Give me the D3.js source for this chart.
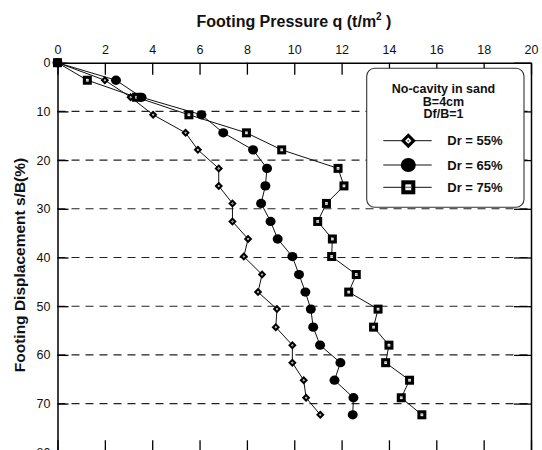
<!DOCTYPE html>
<html>
<head>
<meta charset="utf-8">
<script src="https://cdn.jsdelivr.net/npm/d3@7"></script>
<style>
  html, body { margin: 0; padding: 0; background: #fff; }
  svg { display: block; font-family: Arial, "Liberation Sans", sans-serif; }
</style>
</head>
<body>
<svg id="chart" width="542" height="450"></svg>
<script>
// Settlement ratio s/B (%) at each load step, shared by all three tests
const displacement = [0, 3.6, 7.1, 10.7, 14.4, 17.9, 21.7, 25.3, 28.9, 32.6, 36.2,
                      39.8, 43.5, 47.1, 50.6, 54.3, 58.0, 61.6, 65.2, 68.8, 72.3];
// Footing pressure q (t/m2) for each relative density
const pressure55 = [0, 2.0, 3.09, 4.04, 5.41, 5.93, 6.81, 6.81, 7.39, 7.39, 8.05,
                    7.87, 8.64, 8.47, 9.27, 9.22, 9.92, 9.92, 10.4, 10.5, 11.1];
const pressure65 = [0, 2.47, 3.55, 6.08, 7.0, 8.26, 8.85, 8.78, 8.6, 9.0, 9.3,
                    9.92, 10.2, 10.47, 10.7, 10.8, 11.09, 11.95, 11.7, 12.5, 12.47];
const pressure75 = [0, 1.26, 3.34, 5.55, 7.98, 9.47, 11.85, 12.1, 11.36, 10.99, 11.61,
                    11.58, 12.62, 12.3, 13.54, 13.35, 14.0, 13.86, 14.87, 14.52, 15.39];
const seriesNames = ["Dr = 55%", "Dr = 65%", "Dr = 75%"];
const seriesShapes = ["diamond", "circle", "square"];
const xTicks = [0, 2, 4, 6, 8, 10, 12, 14, 16, 18, 20];
const yTicks = [0, 10, 20, 30, 40, 50, 60, 70, 80];
const legendTitle = ["No-cavity in sand", "B=4cm", "Df/B=1"];

const svg = d3.select("#chart");
const x = d3.scaleLinear().domain([0, 20]).range([57.5, 531]);
const y = d3.scaleLinear().domain([0, 80]).range([62.7, 452.3]);

// Dashed horizontal grid
svg.append("g").selectAll("line")
  .data(yTicks.filter(v => v > 0 && v < 80))
  .join("line")
  .attr("x1", x(0)).attr("x2", x(20))
  .attr("y1", d => y(d)).attr("y2", d => y(d))
  .attr("stroke", "#222").attr("stroke-width", 1.1)
  .attr("stroke-dasharray", "8,6");

function styleAxis(g) {
  g.select(".domain").attr("stroke", "#000").attr("stroke-width", 1.5);
  g.selectAll(".tick line").attr("stroke", "#000").attr("stroke-width", 1.3);
  g.selectAll("text").attr("font-size", 12.5).attr("fill", "#111")
    .attr("font-family", "Arial, 'Liberation Sans', sans-serif");
}

// Top axis carries the pressure labels
svg.append("g").attr("transform", `translate(0,${y(0)})`)
  .call(d3.axisTop(x).tickValues(xTicks).tickSizeInner(-12).tickSizeOuter(0).tickPadding(9))
  .call(styleAxis);
// Bottom axis: inward ticks only
svg.append("g").attr("transform", `translate(0,${y(80)})`)
  .call(d3.axisBottom(x).tickValues(xTicks).tickSizeInner(-12).tickSizeOuter(0).tickFormat(""))
  .call(styleAxis);
// Left axis with displacement labels
svg.append("g").attr("transform", `translate(${x(0)},0)`)
  .call(d3.axisLeft(y).tickValues(yTicks).tickSizeInner(-11).tickSizeOuter(0).tickPadding(7))
  .call(styleAxis);
// Right axis: inward ticks only
svg.append("g").attr("transform", `translate(${x(20)},0)`)
  .call(d3.axisRight(y).tickValues(yTicks).tickSizeInner(-17).tickSizeOuter(0).tickFormat(""))
  .call(styleAxis);

// Axis titles
const topTitle = svg.append("text")
  .attr("x", 294).attr("y", 27)
  .attr("text-anchor", "middle")
  .attr("font-size", 16).attr("font-weight", "bold").attr("fill", "#111");
topTitle.append("tspan").text("Footing Pressure q (t/m");
topTitle.append("tspan").attr("font-size", 10).attr("dy", -7).text("2");
topTitle.append("tspan").attr("dy", 7).text(" )");

svg.append("text")
  .attr("transform", "translate(24.5,265) rotate(-90)")
  .attr("text-anchor", "middle")
  .attr("font-size", 15.5).attr("font-weight", "bold").attr("fill", "#111")
  .text("Footing Displacement  s/B(%)");

// Marker drawing; `hole` is the relative size of the white centre
function drawMarker(g, shape, size, hole) {
  const h = size / 2;
  if (shape === "diamond") {
    g.append("path").attr("d", `M0,${-h}L${h},0L0,${h}L${-h},0Z`).attr("fill", "#000");
    const k = h * hole;
    g.append("path").attr("d", `M0,${-k}L${k},0L0,${k}L${-k},0Z`).attr("fill", "#fff");
    g.append("circle").attr("r", Math.max(0.5, k * 0.3)).attr("fill", "#555");
  } else if (shape === "circle") {
    g.append("ellipse").attr("rx", h).attr("ry", h * 0.93).attr("fill", "#000");
  } else {
    g.append("rect").attr("x", -h).attr("y", -h).attr("width", size).attr("height", size).attr("fill", "#000");
    const k = h * hole;
    g.append("rect").attr("x", -k).attr("y", -k).attr("width", 2 * k).attr("height", 2 * k).attr("fill", "#fff");
    g.append("line").attr("x1", -k).attr("x2", k).attr("y1", 0).attr("y2", 0)
      .attr("stroke", "#666").attr("stroke-width", Math.max(0.5, k * 0.4));
  }
}

const allPressures = [pressure55, pressure65, pressure75];
const line = d3.line().x(d => x(d[0])).y(d => y(d[1]));
const markerSizes = [8.5, 10, 9];
const drawOrder = [2, 0, 1];

drawOrder.forEach(i => {
  const pts = allPressures[i].map((q, j) => [q, displacement[j]]);
  svg.append("path").datum(pts).attr("d", line)
    .attr("fill", "none").attr("stroke", "#111").attr("stroke-width", 1);
});
drawOrder.forEach(i => {
  const pts = allPressures[i].map((q, j) => [q, displacement[j]]);
  const g = svg.append("g");
  pts.forEach(p => {
    const m = g.append("g").attr("transform", `translate(${x(p[0])},${y(p[1])})`);
    drawMarker(m, seriesShapes[i], markerSizes[i], 0.3);
  });
});

// Legend
const lg = svg.append("g");
lg.append("rect").attr("x", 366.7).attr("y", 68.3).attr("width", 157.3).attr("height", 139)
  .attr("rx", 8).attr("ry", 8)
  .attr("fill", "#fff").attr("stroke", "#333").attr("stroke-width", 1.1);
lg.selectAll("text.ttl").data(legendTitle).join("text")
  .attr("class", "ttl")
  .attr("x", 443.5).attr("y", (d, i) => 93.3 + i * 12.3)
  .attr("text-anchor", "middle")
  .attr("font-size", 12.5).attr("font-weight", "bold").attr("fill", "#111")
  .text(d => d);
const rowY = [140.7, 165, 187.3];
seriesNames.forEach((name, i) => {
  lg.append("line").attr("x1", 383.3).attr("x2", 431.7)
    .attr("y1", rowY[i]).attr("y2", rowY[i])
    .attr("stroke", "#111").attr("stroke-width", 1);
  const m = lg.append("g").attr("transform", `translate(408.3,${rowY[i]})`);
  drawMarker(m, seriesShapes[i], [15, 15, 14][i], 0.42);
  lg.append("text").attr("x", 447.3).attr("y", rowY[i]).attr("dy", "0.35em")
    .attr("font-size", 13).attr("font-weight", "bold").attr("fill", "#111")
    .text(name);
});
</script>
</body>
</html>
